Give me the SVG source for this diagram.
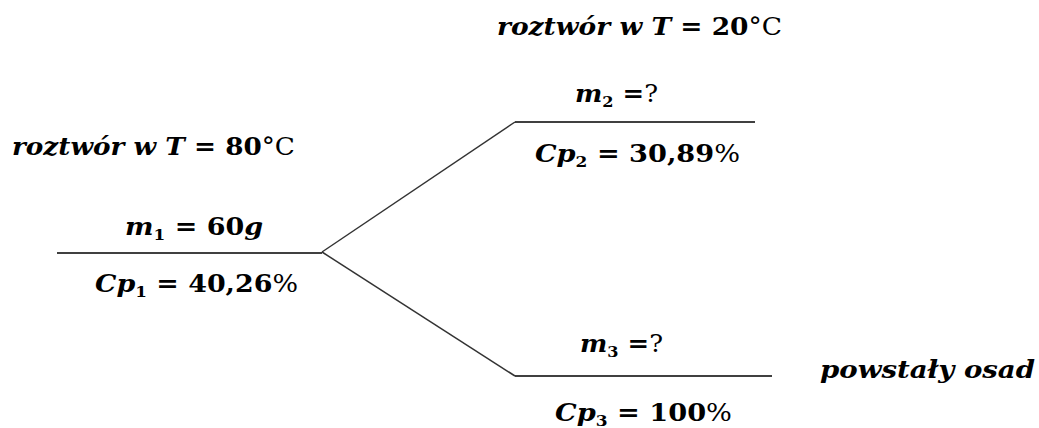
<svg xmlns="http://www.w3.org/2000/svg" width="1039" height="428" viewBox="0 0 1039 428">
<style>
text{font-family:"DejaVu Serif","Liberation Serif",serif;font-size:24px;font-weight:bold;fill:#000}
.i{font-style:italic}
.s{font-size:15px}
.n{font-weight:normal}
.ln{stroke:#000;stroke-width:1.5;fill:none}
.br{stroke:#333;stroke-width:1.5;fill:none}
</style>
<rect width="1039" height="428" fill="#fff"/>
<g id="connectors">
<line class="br" x1="322" y1="252" x2="515" y2="122"/>
<line class="br" x1="322" y1="252" x2="515" y2="376"/>
</g>
<g id="node1">
<line class="ln" x1="57" y1="253" x2="322" y2="253"/>
<text x="12" y="155" textLength="283" lengthAdjust="spacingAndGlyphs"><tspan class="i">roztwór w T</tspan> = 80<tspan class="n">°C</tspan></text>
<text x="125" y="235" textLength="138" lengthAdjust="spacingAndGlyphs"><tspan class="i">m</tspan><tspan class="s" dy="5">1</tspan><tspan dy="-5"> = 60</tspan><tspan class="i">g</tspan></text>
<text x="95" y="292" textLength="203" lengthAdjust="spacingAndGlyphs"><tspan class="i">Cp</tspan><tspan class="s" dy="5">1</tspan><tspan dy="-5"> = 40,26</tspan><tspan class="n">%</tspan></text>
</g>
<g id="node2">
<line class="ln" x1="515" y1="122" x2="755" y2="122"/>
<text x="497" y="35" textLength="285" lengthAdjust="spacingAndGlyphs"><tspan class="i">roztwór w T</tspan> = 20<tspan class="n">°C</tspan></text>
<text x="575" y="102" textLength="83" lengthAdjust="spacingAndGlyphs"><tspan class="i">m</tspan><tspan class="s" dy="5">2</tspan><tspan dy="-5"> =</tspan><tspan class="n">?</tspan></text>
<text x="535" y="162" textLength="205" lengthAdjust="spacingAndGlyphs"><tspan class="i">Cp</tspan><tspan class="s" dy="5">2</tspan><tspan dy="-5"> = 30,89</tspan><tspan class="n">%</tspan></text>
</g>
<g id="node3">
<line class="ln" x1="515" y1="376" x2="772" y2="376"/>
<text x="580" y="352" textLength="83" lengthAdjust="spacingAndGlyphs"><tspan class="i">m</tspan><tspan class="s" dy="5">3</tspan><tspan dy="-5"> =</tspan><tspan class="n">?</tspan></text>
<text x="555" y="421" textLength="177" lengthAdjust="spacingAndGlyphs"><tspan class="i">Cp</tspan><tspan class="s" dy="5">3</tspan><tspan dy="-5"> = 100</tspan><tspan class="n">%</tspan></text>
<text x="820" y="378" class="i" textLength="215" lengthAdjust="spacingAndGlyphs">powstały osad</text>
</g>
</svg>
